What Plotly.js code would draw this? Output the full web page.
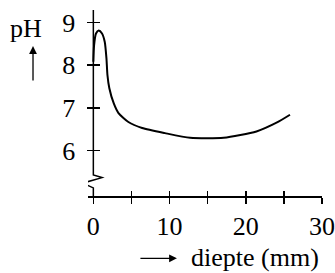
<!DOCTYPE html>
<html>
<head>
<meta charset="utf-8">
<script src="https://cdn.plot.ly/plotly-3.0.1.min.js"></script>
<style>html,body{margin:0;padding:0;background:#fff;}#chart{width:335px;height:273px;}</style>
</head>
<body>
<div id="chart"></div>
<script>
// Data
const depthMm = [0, 0.1, 0.35, 0.7, 1.14, 1.5, 1.72, 1.85, 2.1, 2.67, 3.3, 4.6, 6.4, 9.4, 12.7, 17.1, 21.4, 24.1, 25.8];
const pHValues = [8.08, 8.47, 8.74, 8.81, 8.74, 8.54, 8.16, 7.77, 7.46, 7.11, 6.88, 6.67, 6.53, 6.41, 6.30, 6.30, 6.45, 6.66, 6.84];
const xTickVals = [0, 5, 10, 15, 20, 25, 30];
const xTickText = ['0', '', '10', '', '20', '', '30'];
const yTickVals = [6, 7, 8, 9];
const yTickText = ['6', '7', '8', '9'];
const yLabel = 'pH';
const xLabel = 'diepte (mm)';

const FONT = {family: 'Times New Roman, Liberation Serif, serif', size: 26, color: '#000'};
const xRange = [-0.7, 30];
const yRange = [4.94, 9.29];
const yPos = (0 - xRange[0]) / (xRange[1] - xRange[0]);

const trace = {
  x: depthMm, y: pHValues, type: 'scatter', mode: 'lines',
  line: {color: '#000', width: 2, shape: 'spline', smoothing: 0.6},
  hoverinfo: 'skip'
};

const layout = {
  width: 335, height: 273,
  margin: {l: 87.7, r: 13.3, t: 10, b: 77},
  paper_bgcolor: '#fff', plot_bgcolor: '#fff',
  showlegend: false,
  font: FONT,
  xaxis: {
    range: xRange, tickvals: xTickVals, ticktext: xTickText,
    ticks: 'outside', ticklen: 6, tickwidth: 1.5, tickcolor: '#000',
    showline: true, linecolor: '#000', linewidth: 1.5,
    showgrid: false, zeroline: false, tickfont: FONT, fixedrange: true
  },
  xaxis2: {
    range: xRange, tickvals: xTickVals, overlaying: 'x', anchor: 'y', side: 'bottom',
    ticks: 'inside', ticklen: 5, tickwidth: 1.5, tickcolor: '#000',
    showticklabels: false, showline: false, showgrid: false, zeroline: false
  },
  yaxis: {
    range: yRange, tickvals: yTickVals, ticktext: yTickText,
    anchor: 'free', position: yPos,
    ticks: 'outside', ticklen: 6, tickwidth: 1.5, tickcolor: '#000',
    showline: false, showgrid: false, zeroline: false, tickfont: FONT, fixedrange: true,
    ticklabelstandoff: 7
  },
  yaxis2: {
    range: yRange, tickvals: yTickVals, overlaying: 'y',
    anchor: 'free', position: yPos,
    ticks: 'inside', ticklen: 6, tickwidth: 1.5, tickcolor: '#000',
    showticklabels: false, showline: false, showgrid: false, zeroline: false
  },
  shapes: [{
    type: 'path', xref: 'x', yref: 'y',
    path: 'M 0,9.29 L 0,5.43 L 1.14,5.37 L -1.4,5.24 L 0,5.13 L 0,4.94',
    line: {color: '#000', width: 1.5}
  }],
  annotations: [
    {text: yLabel, xref: 'paper', yref: 'paper', x: -0.264, y: 0.903,
     xanchor: 'center', yanchor: 'middle', showarrow: false, font: FONT},
    {text: '', xref: 'paper', yref: 'paper', x: -0.235, y: 0.806,
     showarrow: true, ax: 0, ay: 36, arrowhead: 2, arrowsize: 1.2, arrowwidth: 1.3, arrowcolor: '#000'},
    {text: '', xref: 'paper', yref: 'paper', x: 0.380, y: -0.335,
     showarrow: true, ax: -38, ay: 0, arrowhead: 2, arrowsize: 1.2, arrowwidth: 1.3, arrowcolor: '#000'},
    {text: xLabel, xref: 'paper', yref: 'paper', x: 0.433, y: -0.333,
     xanchor: 'left', yanchor: 'middle', showarrow: false, font: FONT}
  ]
};

Plotly.newPlot('chart', [trace,
  {x: [], y: [], xaxis: 'x2', yaxis: 'y2', type: 'scatter', hoverinfo: 'skip'}
], layout, {displayModeBar: false, staticPlot: true});
</script>
</body>
</html>
